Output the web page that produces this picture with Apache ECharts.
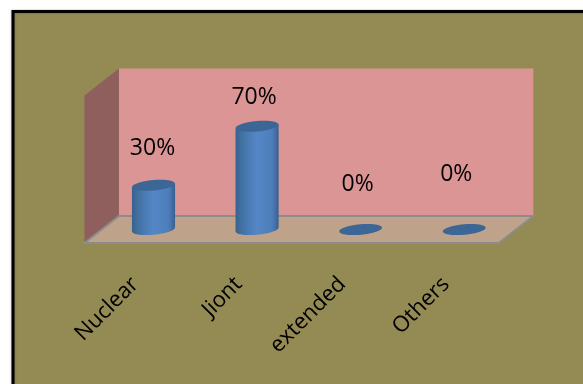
<!DOCTYPE html>
<html><head><meta charset="utf-8">
<style>html,body{margin:0;padding:0;background:#fff}#c{width:583px;height:384px}</style>
<script src="https://cdn.jsdelivr.net/npm/echarts@6/dist/echarts.min.js"></script></head>
<body><div id="c"></div>
<script>
const categories = ['Nuclear', 'Jiont', 'extended', 'Others'];
const shares = [30, 70, 0, 0];
const FONT = '"Open Sans", "Noto Sans", sans-serif';
const labelShift = [[-1, -37], [-3, -29], [-3, -45], [-8, -55]];
const chart = echarts.init(document.getElementById('c'), null, {renderer: 'canvas'});

function renderRoom(params, api) {
  const size = api.size([1, 100]);
  const origin = api.coord([0, 0]), top = api.coord([0, 100]);
  const left = origin[0] - size[0] / 2, right = left + size[0] * 4;
  const base = origin[1], peak = top[1];
  const dx = 17.25, dy = 13.5;
  const poly = (points, fill, stroke, lw) => ({type: 'polygon', shape: {points},
    style: {fill, stroke: stroke || null, lineWidth: lw || 0}});
  return {type: 'group', children: [
    poly([[left + dx, peak - dy], [right + dx, peak - dy], [right + dx, base - dy], [left + dx, base - dy]], '#DB9594'),
    poly([[left - dx, peak + dy], [left + dx, peak - dy], [left + dx, base - dy], [left - dx, base + dy]], '#8F5F5E'),
    poly([[left - dx, base + dy], [left + dx, base - dy], [right + dx, base - dy], [right - dx, base + dy]], '#BEA289', '#8C8C8C', 2)
  ]};
}

function renderCylinder(params, api) {
  const i = api.value(0), v = api.value(1);
  const band = api.size([1, 1])[0];
  const rx = band * 0.208, ry = 5.3, tilt = 0.09;
  const [cx, y0] = api.coord([i, 0]);
  const y1 = api.coord([i, v])[1];
  const lift = rx * tilt;
  const side = new echarts.graphic.LinearGradient(0, 0, 1, 0, [
    {offset: 0, color: '#38608F'}, {offset: 0.12, color: '#40709F'},
    {offset: 0.5, color: '#5587C8'}, {offset: 0.85, color: '#4D7DB9'}, {offset: 1, color: '#38608F'}]);
  const ell = (cy, fill) => ({type: 'ellipse', x: cx, y: cy, rotation: tilt,
    shape: {cx: 0, cy: 0, rx, ry}, style: {fill}});
  const children = [];
  if (v > 0) {
    children.push(ell(y0, side));
    children.push({type: 'polygon', shape: {points: [
      [cx - rx, y1 + lift], [cx + rx, y1 - lift], [cx + rx, y0 - lift], [cx - rx, y0 + lift]]},
      style: {fill: side}});
  }
  children.push(ell(y1, '#3C6696'));
  children.push({type: 'text', x: cx + labelShift[i][0], y: y1 + labelShift[i][1], style: {
    text: v + '%', fill: '#000', font: '23px ' + FONT, textAlign: 'center', textVerticalAlign: 'middle'}});
  return {type: 'group', children};
}

chart.setOption({
  animation: false,
  backgroundColor: '#FFFFFF',
  graphic: [{type: 'rect', z: -1, shape: {x: 13, y: 11.5, width: 600, height: 400},
    style: {fill: '#948A54', stroke: '#000', lineWidth: 3, shadowBlur: 2, shadowColor: 'rgba(0,0,0,0.35)'}}],
  grid: {left: 101.7, width: 414.4, top: 82, height: 147.5},
  xAxis: {type: 'category', data: categories,
    axisLine: {show: false}, axisTick: {show: false},
    axisLabel: {interval: 0, rotate: 45, color: '#000', fontSize: 22, fontFamily: FONT, margin: 33, padding: [0, 26, 0, 0]}},
  yAxis: {type: 'value', min: 0, max: 100, interval: 20, show: false},
  series: [
    {type: 'custom', coordinateSystem: 'cartesian2d', data: [[0, 0]], renderItem: renderRoom, silent: true, z: 1},
    {type: 'custom', coordinateSystem: 'cartesian2d', data: shares.map((s, i) => [i, s]),
      encode: {x: 0, y: 1}, renderItem: renderCylinder, z: 2, clip: false}
  ]
});
</script></body></html>
